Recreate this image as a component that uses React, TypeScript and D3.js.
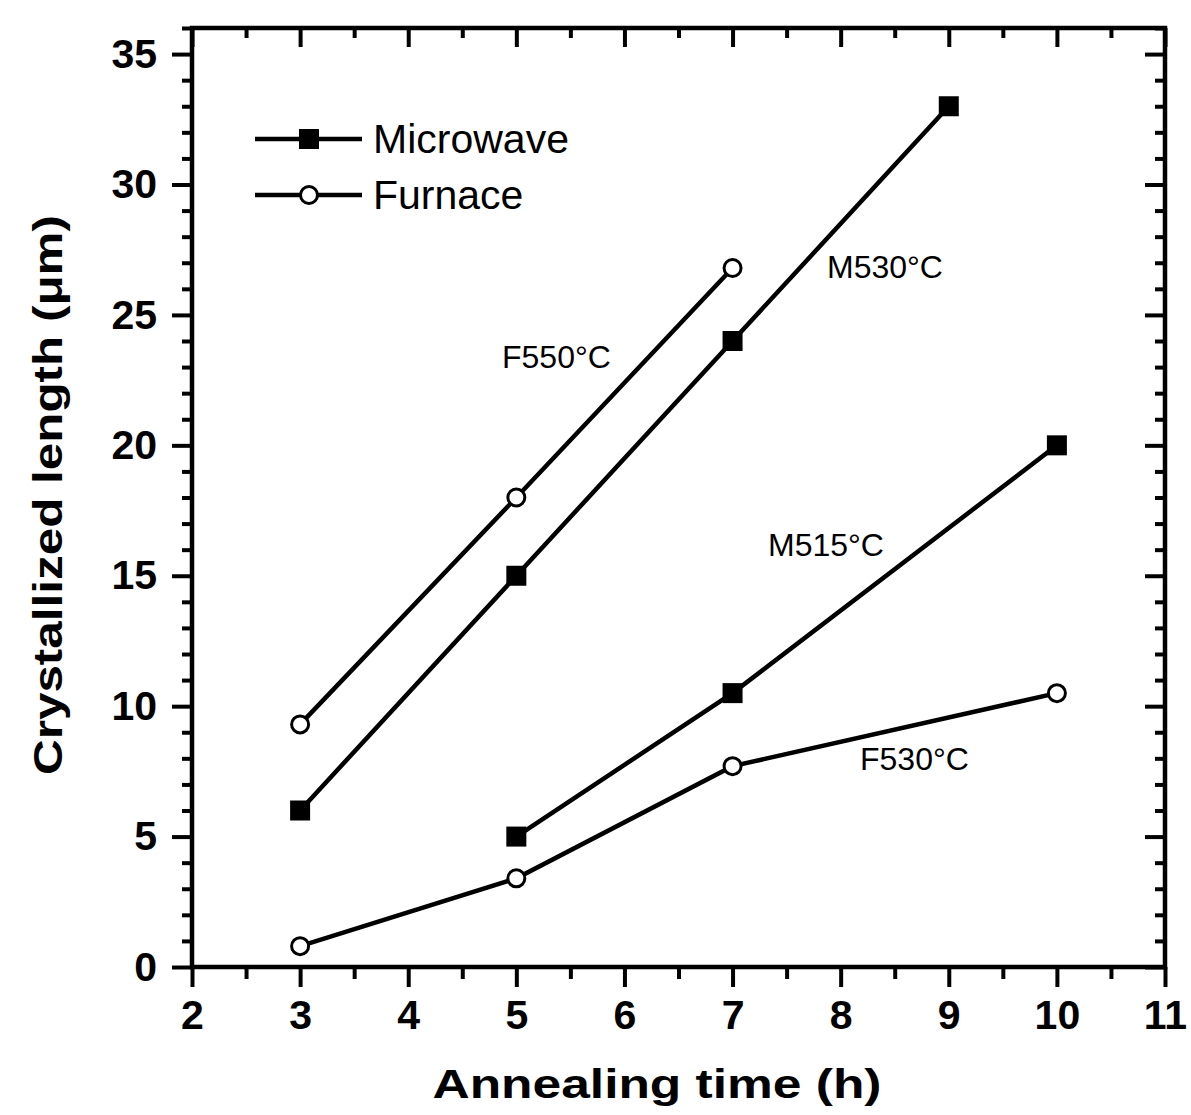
import React, { useEffect, useRef } from 'react'
import * as d3 from 'd3'

// annealing time (h) for each curve
const m530Time = [3, 5, 7, 9]
const m530Length = [6, 15, 24, 33]
const f550Time = [3, 5, 7]
const f550Length = [9.3, 18, 26.8]
const m515Time = [5, 7, 10]
const m515Length = [5, 10.5, 20]
const f530Time = [3, 5, 7, 10]
const f530Length = [0.8, 3.4, 7.7, 10.5]

const xTicks = [2, 3, 4, 5, 6, 7, 8, 9, 10, 11]
const yTicks = [0, 5, 10, 15, 20, 25, 30, 35]
const legendNames = ['Microwave', 'Furnace']

const curves = [
  { name: 'M530°C', kind: 'Microwave', t: m530Time, v: m530Length, lx: 827, ly: 278 },
  { name: 'F550°C', kind: 'Furnace', t: f550Time, v: f550Length, lx: 502, ly: 368 },
  { name: 'M515°C', kind: 'Microwave', t: m515Time, v: m515Length, lx: 768, ly: 556 },
  { name: 'F530°C', kind: 'Furnace', t: f530Time, v: f530Length, lx: 860, ly: 770 },
]

const W = 1191
const H = 1115
const font = 'Liberation Sans, Arial, Helvetica, sans-serif'

const App = () => {
  const ref = useRef<SVGSVGElement>(null)

  useEffect(() => {
    const svg = d3.select(ref.current)
    svg.selectAll('*').remove()

    const x = d3.scaleLinear().domain([2, 11]).range([192, 1165])
    const y = d3.scaleLinear().domain([0, 36]).range([967, 28])

    const minorX = d3.range(2, 11.01, 0.5).filter(d => !xTicks.includes(d))
    const minorY = d3.range(0, 36.01, 1).filter(d => !yTicks.includes(d))

    const styleAxis = (g) => {
      g.select('.domain').remove()
      g.selectAll('line').attr('stroke', '#000').attr('stroke-width', 4)
      g.selectAll('text')
        .attr('font-family', font)
        .attr('font-weight', 'bold')
        .attr('font-size', 41)
        .attr('fill', '#000')
    }

    // bottom axis, ticks outward
    svg.append('g').attr('transform', `translate(0,${y(0)})`)
      .call(d3.axisBottom(x).tickValues(xTicks).tickSize(20).tickPadding(13).tickFormat(d3.format('d')))
      .call(styleAxis)
      .call(g => g.selectAll('text').attr('dy', '0.71em'))
    svg.append('g').attr('transform', `translate(0,${y(0)})`)
      .call(d3.axisBottom(x).tickValues(minorX).tickSize(12).tickFormat(() => ''))
      .call(styleAxis)

    // left axis, ticks outward
    svg.append('g').attr('transform', `translate(${x(2)},0)`)
      .call(d3.axisLeft(y).tickValues(yTicks).tickSize(20).tickPadding(15).tickFormat(d3.format('d')))
      .call(styleAxis)
    svg.append('g').attr('transform', `translate(${x(2)},0)`)
      .call(d3.axisLeft(y).tickValues(minorY).tickSize(10).tickFormat(() => ''))
      .call(styleAxis)

    // top and right, ticks inward
    svg.append('g').attr('transform', `translate(0,${y(36)})`)
      .call(d3.axisBottom(x).tickValues(xTicks).tickSize(19).tickFormat(() => ''))
      .call(styleAxis)
    svg.append('g').attr('transform', `translate(0,${y(36)})`)
      .call(d3.axisBottom(x).tickValues(minorX).tickSize(10).tickFormat(() => ''))
      .call(styleAxis)
    svg.append('g').attr('transform', `translate(${x(11)},0)`)
      .call(d3.axisLeft(y).tickValues(yTicks).tickSize(20).tickFormat(() => ''))
      .call(styleAxis)
    svg.append('g').attr('transform', `translate(${x(11)},0)`)
      .call(d3.axisLeft(y).tickValues(minorY).tickSize(10).tickFormat(() => ''))
      .call(styleAxis)

    // frame
    svg.append('rect')
      .attr('x', x(2)).attr('y', y(36))
      .attr('width', x(11) - x(2)).attr('height', y(0) - y(36))
      .attr('fill', 'none').attr('stroke', '#000').attr('stroke-width', 4.5)

    const line = d3.line<[number, number]>().x(d => x(d[0])).y(d => y(d[1]))

    const drawMarker = (g, kind, cx, cy) => {
      if (kind === 'Microwave') {
        g.append('rect').attr('x', cx - 10).attr('y', cy - 10)
          .attr('width', 20).attr('height', 20).attr('fill', '#000')
      } else {
        g.append('circle').attr('cx', cx).attr('cy', cy).attr('r', 8.5)
          .attr('fill', '#fff').attr('stroke', '#000').attr('stroke-width', 3)
      }
    }

    curves.forEach(c => {
      const pts = c.t.map((t, i) => [t, c.v[i]] as [number, number])
      const g = svg.append('g')
      g.append('path').attr('d', line(pts))
        .attr('fill', 'none').attr('stroke', '#000').attr('stroke-width', 4.5)
      pts.forEach(p => drawMarker(g, c.kind, x(p[0]), y(p[1])))
      svg.append('text').attr('x', c.lx).attr('y', c.ly)
        .attr('font-family', font).attr('font-size', 32).attr('fill', '#000')
        .text(c.name)
    })

    // legend
    legendNames.forEach((name, i) => {
      const ly = 139 + i * 56
      const g = svg.append('g')
      g.append('line').attr('x1', 255).attr('x2', 362).attr('y1', ly).attr('y2', ly)
        .attr('stroke', '#000').attr('stroke-width', 4.5)
      drawMarker(g, name, 309, ly)
      g.append('text').attr('x', 373).attr('y', ly + 14)
        .attr('font-family', font).attr('font-size', 41).attr('fill', '#000')
        .text(name)
    })

    // axis titles
    svg.append('text')
      .attr('x', 657).attr('y', 1098)
      .attr('text-anchor', 'middle')
      .attr('font-family', font).attr('font-weight', 'bold').attr('font-size', 41)
      .attr('textLength', 449).attr('lengthAdjust', 'spacingAndGlyphs')
      .text('Annealing time (h)')
    svg.append('text')
      .attr('transform', 'translate(62,495) rotate(-90)')
      .attr('text-anchor', 'middle')
      .attr('font-family', font).attr('font-weight', 'bold').attr('font-size', 41)
      .attr('textLength', 560).attr('lengthAdjust', 'spacingAndGlyphs')
      .text('Crystallized length (μm)')
  })

  return (
    <svg ref={ref} width={W} height={H}
      style={{ position: 'absolute', left: 0, top: 0, background: '#fff' }} />
  )
}

export default App
